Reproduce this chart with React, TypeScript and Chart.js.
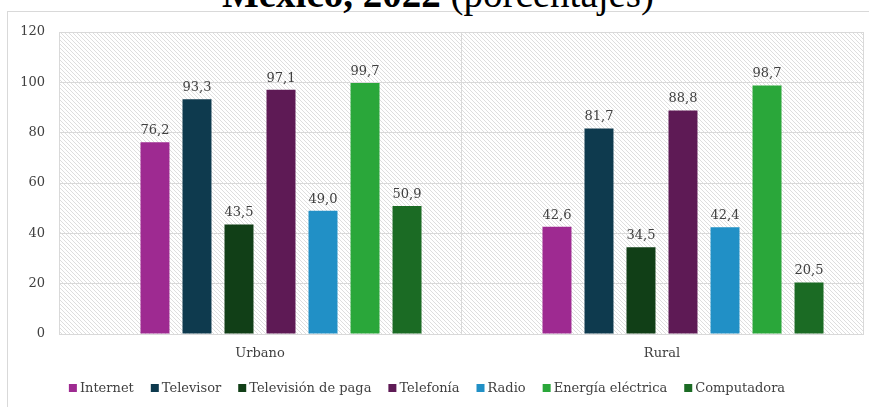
import React, { useEffect, useRef } from "react";
import { Chart, registerables } from "chart.js";

Chart.register(...registerables);

const categories = ["Urbano", "Rural"];
const seriesNames = [
  "Internet",
  "Televisor",
  "Televisión de paga",
  "Telefonía",
  "Radio",
  "Energía eléctrica",
  "Computadora",
];
const seriesColors = [
  "#9e2a91",
  "#0e3a4e",
  "#113f17",
  "#5e1a55",
  "#2190c6",
  "#2aa73a",
  "#1b6b24",
];
const internet = [76.2, 42.6];
const televisor = [93.3, 81.7];
const tvPaga = [43.5, 34.5];
const telefonia = [97.1, 88.8];
const radio = [49.0, 42.4];
const energia = [99.7, 98.7];
const computadora = [50.9, 20.5];
const seriesValues = [internet, televisor, tvPaga, telefonia, radio, energia, computadora];
const yTicks = [0, 20, 40, 60, 80, 100, 120];

const FONT = "'DejaVu Serif', serif";
const TEXT = "#404040";
const GRID = "#d9d9d9";

function makeHatch(): CanvasPattern | string {
  const s = 4;
  const c = document.createElement("canvas");
  c.width = s;
  c.height = s;
  const g = c.getContext("2d");
  if (!g) return "#ffffff";
  g.fillStyle = "#ffffff";
  g.fillRect(0, 0, s, s);
  g.strokeStyle = "#dedede";
  g.lineWidth = 1;
  g.beginPath();
  g.moveTo(-1, -1);
  g.lineTo(s + 1, s + 1);
  g.moveTo(-1, s - 1);
  g.lineTo(1, s + 1);
  g.moveTo(s - 1, -1);
  g.lineTo(s + 1, 1);
  g.stroke();
  const p = g.createPattern(c, "repeat");
  return p || "#ffffff";
}

const hatchPlugin = {
  id: "hatchBg",
  beforeDraw(chart: any) {
    const { ctx, chartArea } = chart;
    if (!chartArea) return;
    ctx.save();
    ctx.fillStyle = makeHatch();
    ctx.fillRect(chartArea.left, chartArea.top, chartArea.right - chartArea.left, chartArea.bottom - chartArea.top);
    ctx.restore();
  },
};

const labelPlugin = {
  id: "valueLabels",
  afterDatasetsDraw(chart: any) {
    const { ctx } = chart;
    ctx.save();
    ctx.font = `13px ${FONT}`;
    ctx.fillStyle = TEXT;
    ctx.textAlign = "center";
    ctx.textBaseline = "bottom";
    chart.data.datasets.forEach((ds: any, i: number) => {
      if (i === 0) return;
      const meta = chart.getDatasetMeta(i);
      meta.data.forEach((el: any, j: number) => {
        const v = ds.data[j];
        if (v == null) return;
        ctx.fillText(v.toFixed(1).replace(".", ","), el.x, el.y - 5);
      });
    });
    ctx.restore();
  },
};

const legendPlugin = {
  id: "customLegend",
  afterDraw(chart: any) {
    const { ctx } = chart;
    ctx.save();
    ctx.font = `13px ${FONT}`;
    const box = 8;
    const textGap = 3;
    const itemGap = 17;
    const items = chart.data.datasets
      .map((ds: any, i: number) => ({ ds, i }))
      .filter((o: any) => o.i !== 0);
    const widths = items.map((o: any) => box + textGap + ctx.measureText(o.ds.label).width);
    const total = widths.reduce((a: number, b: number) => a + b, 0) + itemGap * (items.length - 1);
    let x = 427 - total / 2;
    const yc = 388;
    ctx.textBaseline = "middle";
    ctx.textAlign = "left";
    items.forEach((o: any, k: number) => {
      ctx.fillStyle = o.ds.backgroundColor;
      ctx.fillRect(x, yc - box / 2, box, box);
      ctx.fillStyle = TEXT;
      ctx.fillText(o.ds.label, x + box + textGap, yc + 1);
      x += widths[k] + itemGap;
    });
    ctx.restore();
  },
};

export default function App() {
  const ref = useRef<HTMLCanvasElement | null>(null);

  useEffect(() => {
    if (!ref.current) return;
    const datasets: any[] = [
      {
        label: "",
        data: categories.map(() => null),
        backgroundColor: "transparent",
      },
      ...seriesNames.map((name, i) => ({
        label: name,
        data: seriesValues[i],
        backgroundColor: seriesColors[i],
        borderWidth: 0,
      })),
    ];
    const chart = new Chart(ref.current, {
      type: "bar",
      data: { labels: categories, datasets },
      plugins: [hatchPlugin, labelPlugin, legendPlugin],
      options: {
        animation: false,
        responsive: true,
        maintainAspectRatio: false,
        datasets: {
          bar: { categoryPercentage: 0.836, barPercentage: 0.69 },
        },
        layout: { padding: { left: 9, top: 32, right: 6, bottom: 36 } },
        scales: {
          x: {
            grid: { offset: true, color: GRID, drawTicks: false, lineWidth: 1 },
            border: { color: GRID },
            ticks: { font: { family: FONT, size: 13 }, color: TEXT, padding: 12 },
            afterFit: (s: any) => {
              s.height = 37;
            },
          },
          y: {
            min: 0,
            max: 120,
            afterBuildTicks: (s: any) => {
              s.ticks = yTicks.map((v) => ({ value: v }));
            },
            grid: { color: GRID, drawTicks: false },
            border: { color: GRID },
            ticks: { font: { family: FONT, size: 13 }, color: TEXT, padding: 14 },
            afterFit: (s: any) => {
              s.width = 50;
            },
          },
        },
        plugins: {
          tooltip: { enabled: false },
          legend: { display: false },
        },
      } as any,
    });
    return () => chart.destroy();
  }, []);

  return (
    <div style={{ position: "absolute", left: 0, top: 0, width: 869, height: 407, overflow: "hidden", background: "#fff" }}>
      <div
        style={{
          position: "absolute",
          left: 7,
          top: 11,
          width: 900,
          height: 420,
          borderLeft: `1px solid ${GRID}`,
          borderTop: `1px solid ${GRID}`,
        }}
      />
      <div
        style={{
          position: "absolute",
          left: 0,
          width: 876,
          top: -26,
          textAlign: "center",
          fontFamily: "'Liberation Serif', serif",
          fontSize: 39,
          lineHeight: "39px",
          color: "#000",
          whiteSpace: "nowrap",
        }}
      >
        <b>México, 2022</b> (porcentajes)
      </div>
      <div style={{ position: "absolute", left: 0, top: 0, width: 869, height: 407 }}>
        <canvas ref={ref} />
      </div>
    </div>
  );
}
